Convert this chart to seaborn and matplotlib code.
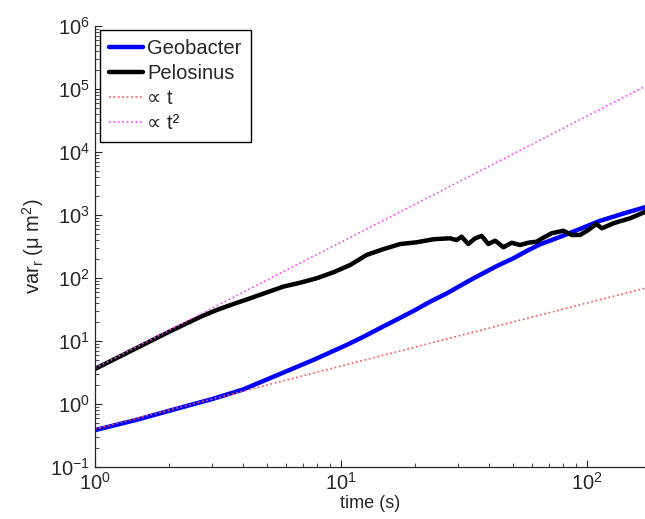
import numpy as np
import pandas as pd
import matplotlib
matplotlib.use("Agg")
import matplotlib.pyplot as plt
import seaborn as sns

# dane (log-log)
t_geo = [1, 1.5, 2, 3, 4, 5.65, 7.72, 10.5, 12.4, 14.4, 16.9, 19.7, 23, 26.9,
         33.4, 36.7, 43, 50.1, 57, 64.2, 80, 93.6, 112, 140, 172]
var_geo = [0.385, 0.57, 0.78, 1.2, 1.7, 3.0, 5.0, 8.6, 11.8, 16, 22, 30, 42, 57,
           92, 112, 155, 205, 270, 340, 470, 600, 800, 1050, 1330]

t_pel = [1, 2, 2.67, 3.12, 3.65, 4.27, 4.99, 5.83, 6.81, 7.96, 9.3, 10.9, 12.7,
         14.9, 17.4, 20.3, 23.7, 27.7, 29.5, 30.9, 32.9, 35.1, 37.3, 39.7, 42.3,
         45.7, 49.4, 53.4, 57.7, 62.4, 66.4, 71.8, 80.1, 86.6, 93.6, 101, 109,
         115, 128, 150, 172]
var_pel = [3.6, 14, 24, 31, 38.6, 47.6, 59, 73, 84, 99, 123, 161, 232,
           288, 346, 369, 412, 427, 400, 453, 346, 427, 465, 346, 391,
           307, 363, 334, 363, 377, 436, 513, 563, 482, 482, 575, 720,
           615, 740, 890, 1120]

# linie odniesienia (proste w skali log-log, wystarczą końce)
t_ref = [1, 172]
var_lin = [0.4, 69]
var_sq = [3.7, 110000]

sns.set_style("ticks")
plt.rcParams['font.family'] = ['Liberation Sans', 'DejaVu Sans']
plt.rcParams['mathtext.fontset'] = 'custom'
plt.rcParams['mathtext.rm'] = 'Liberation Sans'
plt.rcParams['mathtext.it'] = 'Liberation Sans:italic'

fig = plt.figure(figsize=(6.45, 5.19), dpi=100)
ax = fig.add_axes([95 / 645, 52 / 519, 550 / 645, 441 / 519])

sns.lineplot(x=t_geo, y=var_geo, ax=ax, color='#0000ff', lw=3.2, label='Geobacter')
sns.lineplot(x=t_pel, y=var_pel, ax=ax, color='black', lw=3.2, label='Pelosinus', sort=False)
sns.lineplot(x=t_ref, y=var_lin, ax=ax, color='#ff5050', lw=1.2, ls=':', label='∝ t')
sns.lineplot(x=t_ref, y=var_sq, ax=ax, color='#ff40ff', lw=1.2, ls=':', label='∝ t²')

ax.set_xscale('log')
ax.set_yscale('log')
ax.set_xlim(1, 172)
ax.set_ylim(0.1, 1e6)

ax.set_xlabel('time (s)', fontsize=13, labelpad=1)
ax.set_ylabel(r'var$_\mathrm{r}$ ($\mathrm{\mu}$ m$^2$)', fontsize=14.5, labelpad=3)

ax.tick_params(axis='both', which='major', direction='in', length=5, labelsize=14.5, width=0.8)
ax.tick_params(axis='both', which='minor', direction='in', length=3, width=0.6)
ax.yaxis.set_major_locator(matplotlib.ticker.LogLocator(base=10, numticks=20))
ax.yaxis.set_minor_locator(matplotlib.ticker.LogLocator(base=10, subs=np.arange(2, 10), numticks=20))

sns.despine(ax=ax)
for s in ['left', 'bottom']:
    ax.spines[s].set_linewidth(0.9)

leg = ax.legend(loc='upper left', bbox_to_anchor=(0.009, 0.991), borderaxespad=0,
                fontsize=14.5, handlelength=1.7, labelspacing=0.3, handletextpad=0.2,
                borderpad=0.45, fancybox=False, framealpha=1)
leg.get_frame().set_edgecolor('black')
leg.get_frame().set_linewidth(1.0)

fig.savefig('out.png', dpi=100)
